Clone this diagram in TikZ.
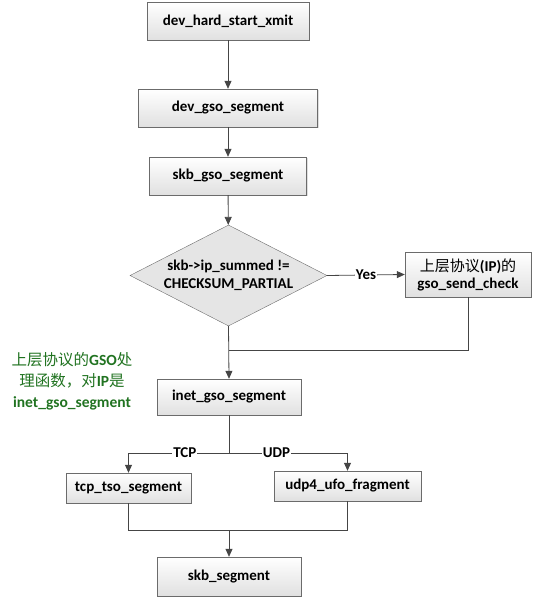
\documentclass[tikz,border=0pt]{standalone}
\usepackage{fontspec}
\setmainfont{Carlito}
\newfontfamily\cjk{Noto Sans CJK SC}
\usepackage{tikz}
\usetikzlibrary{arrows.meta}
\usetikzlibrary{shapes.geometric}
\usetikzlibrary{shadows}
\definecolor{mline}{rgb}{0.27, 0.27, 0.27}
\definecolor{mborder}{rgb}{0.42, 0.42, 0.42}
\definecolor{mgreen}{rgb}{0.13, 0.45, 0.13}
\tikzset{fbox/.style = {draw=mborder, top color=white, bottom color=black!12,
    drop shadow={shadow xshift=1pt, shadow yshift=-1pt, opacity=0.25},
    inner sep=0, font=\bfseries\fontsize{15}{17}\selectfont, align=center}}
\tikzset{arr/.style = {mline, thick, -{Triangle[length=8pt, width=7pt]}}}
\tikzset{lbl/.style = {fill=white, text=black, inner sep=1pt, font=\bfseries\fontsize{15}{17}\selectfont}}

\begin{document}
\begin{tikzpicture}[x=1pt, y=-1pt]
      \useasboundingbox (0, 0) rectangle (536, 601);

      \node [fbox, minimum width=162, minimum height=38] (hardxmit) at (228, 21) {dev\_hard\_start\_xmit};
      \node [fbox, minimum width=179, minimum height=38] (devgso) at (228, 108) {dev\_gso\_segment};
      \node [fbox, minimum width=157, minimum height=38] (skbgso) at (228, 176) {skb\_gso\_segment};

      \node [diamond, aspect=1.95, draw=mborder, fill=black!10, inner sep=0, minimum width=197, minimum height=101,
        font=\bfseries\fontsize{15}{18}\selectfont, align=center] (summed) at (228.5, 275.5)
        {skb->ip\_summed !=\\CHECKSUM\_PARTIAL};

      \node [fbox, minimum width=126, minimum height=45] (sendcheck) at (468, 274.5)
        {{\cjk\mdseries 上层协议}(IP){\cjk\mdseries 的}\\gso\_send\_check};

      \node [fbox, minimum width=144, minimum height=36] (inetgso) at (229, 397) {inet\_gso\_segment};
      \node [fbox, minimum width=125, minimum height=30] (tcptso) at (128.5, 488) {tcp\_tso\_segment};
      \node [fbox, minimum width=147, minimum height=30] (udpufo) at (347.5, 486) {udp4\_ufo\_fragment};
      \node [fbox, minimum width=144, minimum height=39] (skbseg) at (229, 576.5) {skb\_segment};

      \node [mgreen, align=center, font=\bfseries\fontsize{15.5}{21}\selectfont] (note) at (72, 381)
        {{\cjk\mdseries 上层协议的}GSO{\cjk\mdseries 处}\\{\cjk\mdseries 理函数，对}IP{\cjk\mdseries 是}\\inet\_gso\_segment};

      \coordinate (merge) at (229, 350);
      \coordinate (fork) at (229, 453);
      \coordinate (join) at (229, 530);

      \draw [arr] (hardxmit) -- (devgso);
      \draw [arr] (devgso) -- (skbgso);
      \draw [arr] (skbgso) -- (summed);
      \draw [arr] (summed.east) -- (sendcheck.west) node [lbl, midway] {Yes};
      \draw [mline, thick] (sendcheck.south) |- (merge);
      \draw [arr] (summed.south) -- (inetgso.north);

      \draw [arr] (inetgso.south) -- (fork) -| (tcptso.north) node [lbl, pos=0.22] {TCP};
      \draw [arr] (fork) -| (udpufo.north) node [lbl, pos=0.2] {UDP};

      \draw [mline, thick] (tcptso.south) |- (join);
      \draw [mline, thick] (udpufo.south) |- (join);
      \draw [arr] (join) -- (skbseg.north);
    \end{tikzpicture}
\end{document}
